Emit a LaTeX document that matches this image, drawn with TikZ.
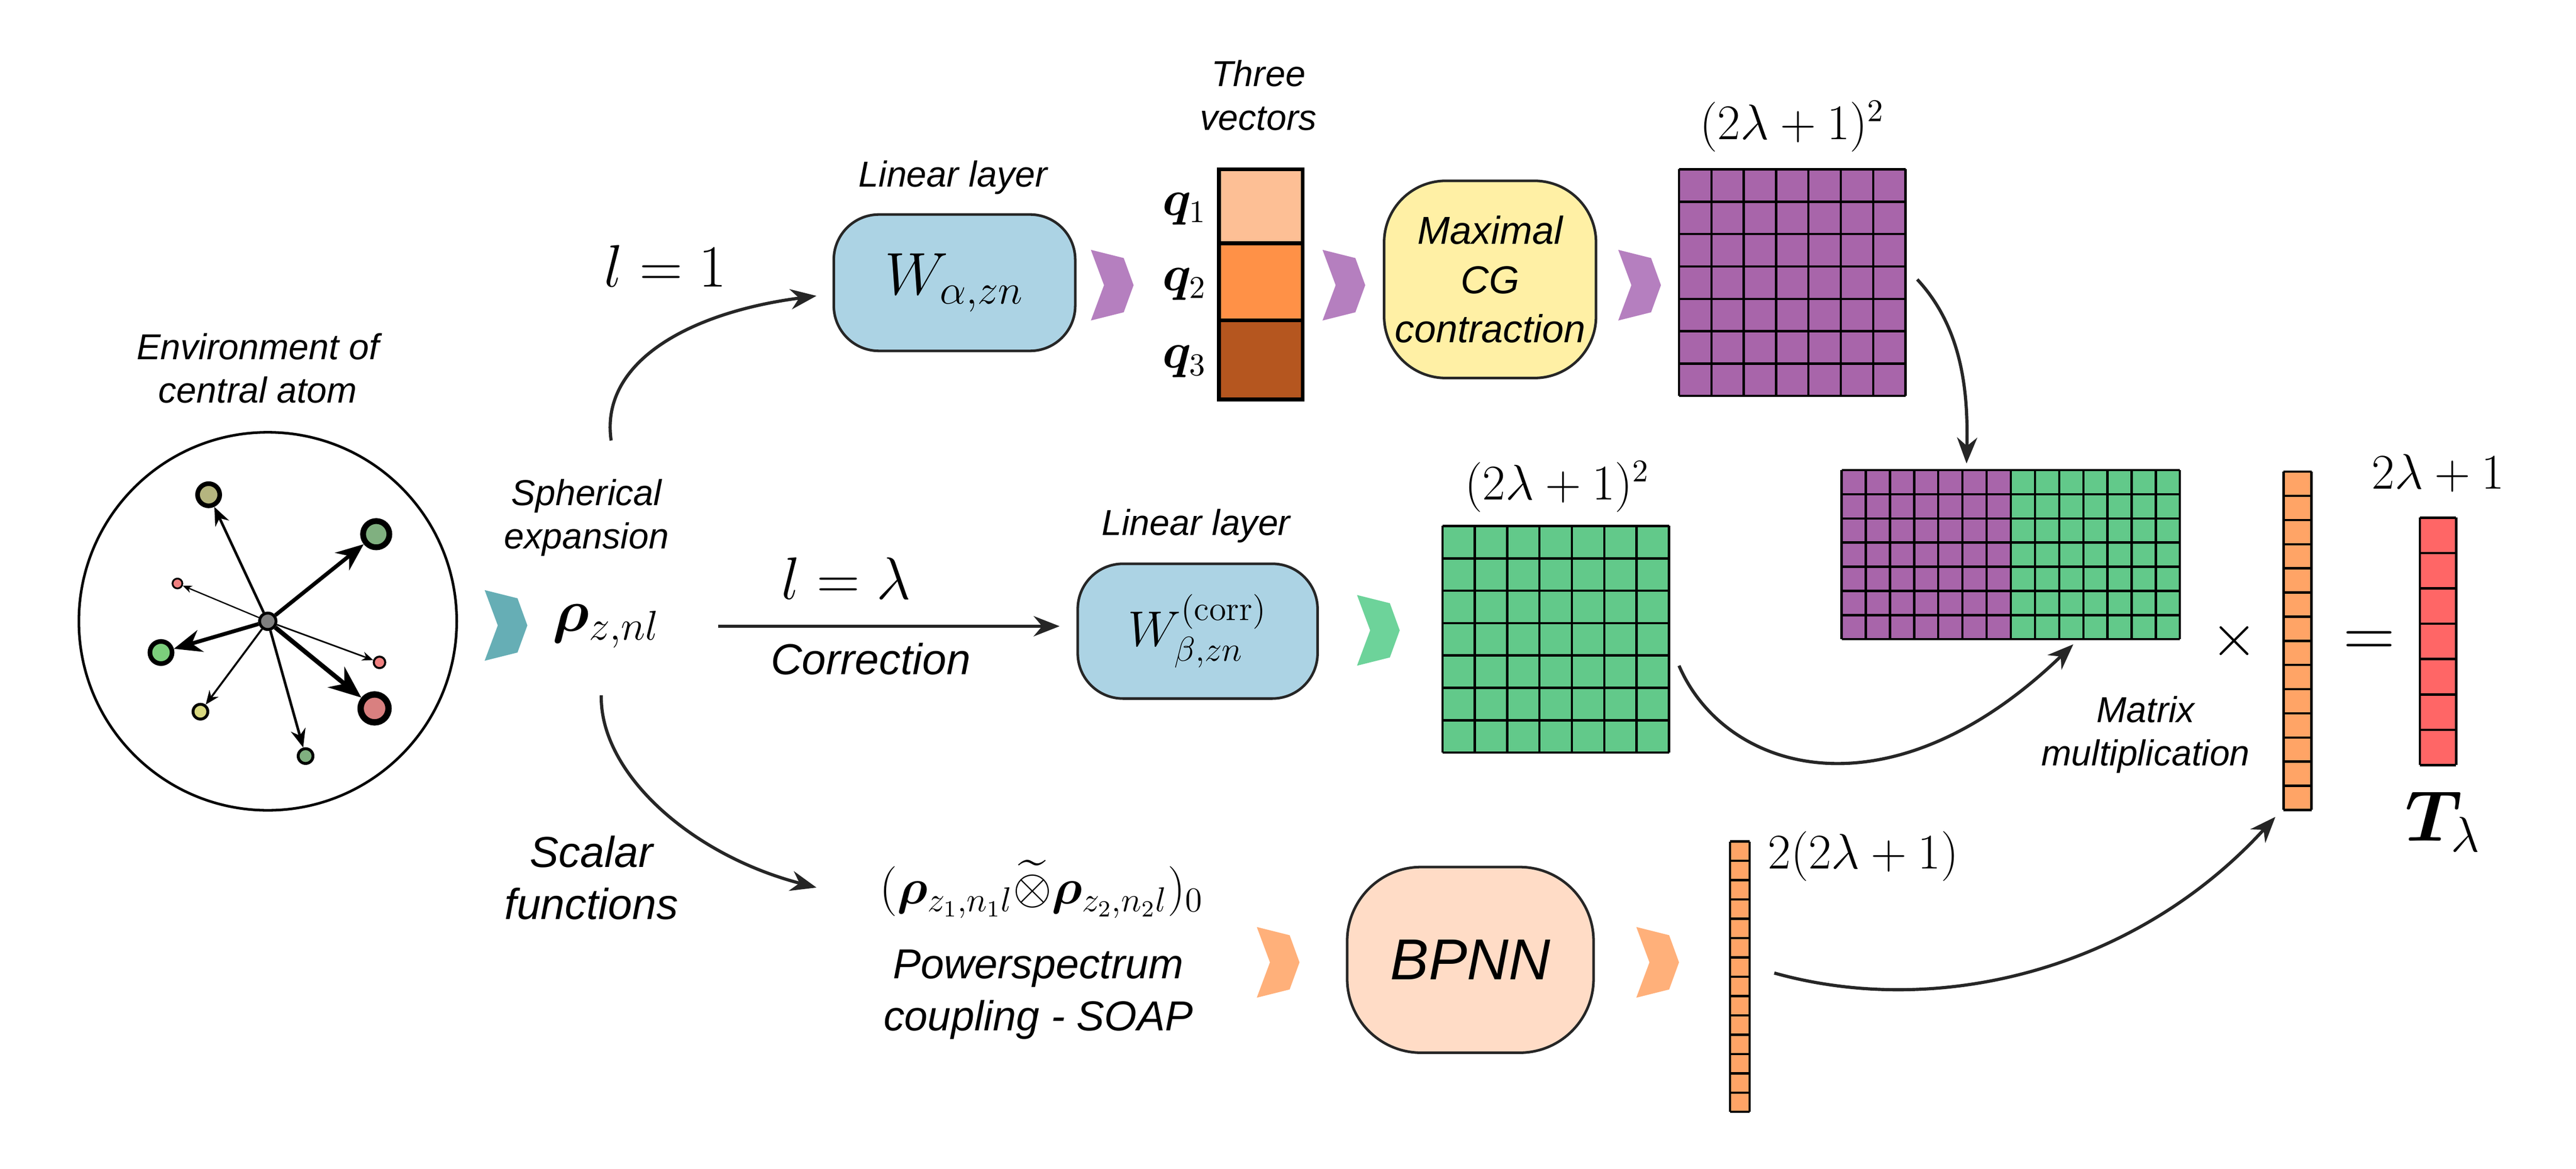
\documentclass[tikz,border=0pt]{standalone}
\usepackage{amsmath,bm}
\usepackage[no-math]{fontspec}
\setmainfont{Liberation Sans}
\usetikzlibrary{arrows.meta}
\definecolor{teal1}{HTML}{66AEB5}
\definecolor{purp}{HTML}{B57FBF}
\definecolor{purpm}{HTML}{A865AA}
\definecolor{grn}{HTML}{62C98A}
\definecolor{grnc}{HTML}{6DD39A}
\definecolor{orv}{HTML}{FFA466}
\definecolor{orc}{HTML}{FFB07A}
\definecolor{redv}{HTML}{FF6666}
\definecolor{lblue}{HTML}{ACD3E4}
\definecolor{lyel}{HTML}{FFF0A5}
\definecolor{lpeach}{HTML}{FFDCC6}
\definecolor{q1c}{HTML}{FDBF95}
\definecolor{q2c}{HTML}{FF9147}
\definecolor{q3c}{HTML}{B5561F}
\definecolor{at1}{HTML}{B5B57F}
\definecolor{at2}{HTML}{80B080}
\definecolor{at3}{HTML}{F08080}
\definecolor{at4}{HTML}{7CCF7C}
\definecolor{at6}{HTML}{D8D880}
\definecolor{at7}{HTML}{D98080}
\newcommand\mychev[3]{\fill[#3] (#1,#2) -- ++(20,5) -- ++(6,16.5) -- ++(-6,16.5) -- ++(-20,5) -- ++(8,-21.5) -- cycle;}
\newcommand\mygrid[6]{%
  \fill[#6] (#1,#2) rectangle ++(#3*#5,#4*#5);
  \foreach \k in {0,...,#3} \draw[line width=0.8pt] (#1+\k*#5,#2) -- ++(0,#4*#5);
  \foreach \k in {0,...,#4} \draw[line width=0.8pt] (#1,#2+\k*#5) -- ++(#3*#5,0);}
\newcommand\myvec[6]{%
  \fill[#6] (#1,#2) rectangle ++(#3,#4*#5);
  \foreach \k in {0,...,#4} \draw[line width=0.8pt] (#1,#2+\k*#5) -- ++(#3,0);
  \draw[line width=0.8pt] (#1,#2) -- ++(0,#4*#5) (#1+#3,#2) -- ++(0,#4*#5);}
\begin{document}
\begin{tikzpicture}[x=0.02cm,y=-0.02cm,
  lbl/.style={font=\fontsize{12.5}{15}\selectfont\itshape,align=center},
  big/.style={font=\fontsize{20}{24}\selectfont},
  mid/.style={font=\fontsize{16}{19}\selectfont},
  conn/.style={line width=1.1pt,draw=black!85,-{Stealth[length=9pt,width=7pt]}},
  box/.style={draw=black!85,line width=0.9pt,rounded corners=0.55cm},
  atom/.style={circle,draw,inner sep=0pt},
  bond/.style={-{Stealth[length=#1*3.2pt,width=#1*2.6pt]},line width=#1*0.45pt}]
\useasboundingbox (0,0) rectangle (1568,711);
% environment
\node[lbl] (envt) at (157,224) {Environment of\\central atom};
\draw[line width=0.9pt] (163,378) circle[radius=115];
\node[atom,fill=gray,minimum size=0.2cm,line width=1pt] (c) at (163,378) {};
\node[atom,fill=at1,minimum size=0.27cm,line width=1.6pt] (a1) at (127,301) {};
\node[atom,fill=at2,minimum size=0.32cm,line width=2pt] (a2) at (229,325) {};
\node[atom,fill=at3,minimum size=0.12cm,line width=0.6pt] (a3) at (108,355) {};
\node[atom,fill=at4,minimum size=0.27cm,line width=1.6pt] (a4) at (98,397) {};
\node[atom,fill=at3,minimum size=0.14cm,line width=0.7pt] (a5) at (231,403) {};
\node[atom,fill=at6,minimum size=0.18cm,line width=1pt] (a6) at (122,433) {};
\node[atom,fill=at7,minimum size=0.34cm,line width=2.2pt] (a7) at (228,431) {};
\node[atom,fill=at2,minimum size=0.18cm,line width=1pt] (a8) at (186,460) {};
\draw[bond=2] (c) -- (a1);
\draw[bond=3] (c) -- (a2);
\draw[bond=1] (c) -- (a3);
\draw[bond=3] (c) -- (a4);
\draw[bond=1.2] (c) -- (a5);
\draw[bond=1.5] (c) -- (a6);
\draw[bond=3.5] (c) -- (a7);
\draw[bond=2] (c) -- (a8);
% spherical expansion
\mychev{295}{359}{teal1}
\node[lbl] (sph) at (357,315) {Spherical\\expansion};
\node[font=\fontsize{22}{26}\selectfont,anchor=west] (rho) at (330,381) {$\bm{\rho}_{z,nl}$};
% top branch
\coordinate (t0) at (372,268);
\coordinate (t1) at (497,180);
\draw[conn] (t0) .. controls (365,220) and (420,190) .. (t1);
\node[big] (l1) at (405,162) {$l=1$};
\node[lbl] (ll1) at (580,108) {Linear layer};
\node[box,fill=lblue,minimum width=2.94cm,minimum height=1.66cm] (W1) at (581,172) {\fontsize{20}{24}\selectfont$W_{\alpha,zn}$};
\mychev{664}{152}{purp}
\node[lbl] (three) at (766,58) {Three\\vectors};
\fill[q1c] (742,103) rectangle (793,148);
\fill[q2c] (742,148) rectangle (793,195);
\fill[q3c] (742,195) rectangle (793,243);
\draw[line width=1.3pt] (742,103) rectangle (793,243) (742,148) -- (793,148) (742,195) -- (793,195);
\node[mid] (q1) at (721,127) {$\bm{q}_1$};
\node[mid] (q2) at (721,173) {$\bm{q}_2$};
\node[mid] (q3) at (721,220) {$\bm{q}_3$};
\mychev{805}{152}{purp}
\node[box,fill=lyel,minimum width=2.58cm,minimum height=2.4cm,rounded corners=0.75cm,lbl,font=\fontsize{13.5}{17}\selectfont\itshape] (cg) at (907,170) {Maximal\\CG\\contraction};
\mychev{985}{152}{purp}
\node[mid] (d1) at (1091,77) {$(2\lambda+1)^2$};
\mygrid{1022}{103}{7}{7}{19.7}{purpm}
\coordinate (p0) at (1167,170);
\coordinate (p1) at (1197,282);
\draw[conn] (p0) .. controls (1195,200) and (1198,240) .. (p1);
% combined matrix
\mygrid{1121}{286}{7}{7}{14.7}{purpm}
\mygrid{1224}{286}{7}{7}{14.7}{grn}
\node[big] (times) at (1360,390) {$\times$};
\myvec{1390}{287}{17}{14}{14.7}{orv}
\node[font=\fontsize{24}{28}\selectfont] (eq) at (1442,392) {$=$};
\node[mid] (d3) at (1484,288) {$2\lambda+1$};
\myvec{1473}{315}{22}{7}{21.5}{redv}
\node[font=\fontsize{24}{28}\selectfont] (T) at (1487,500) {$\bm{T}_\lambda$};
% middle
\node[big] (ll) at (515,352) {$l=\lambda$};
\coordinate (m0) at (437,381);
\coordinate (m1) at (645,381);
\draw[conn] (m0) -- (m1);
\node[lbl,font=\fontsize{15}{18}\selectfont\itshape] (corr) at (530,401) {Correction};
\node[lbl] (ll2) at (728,320) {Linear layer};
\node[box,fill=lblue,minimum width=2.92cm,minimum height=1.64cm] (W2) at (729,384) {\fontsize{18}{22}\selectfont$W^{(\mathrm{corr})}_{\beta,zn}$};
\mychev{826}{362}{grnc}
\node[mid] (d2) at (948,296) {$(2\lambda+1)^2$};
\mygrid{878}{320}{7}{7}{19.7}{grn}
\coordinate (g0) at (1022,405);
\coordinate (g1) at (1262,392);
\draw[conn] (g0) .. controls (1050,470) and (1150,500) .. (g1);
\node[lbl] (mm) at (1306,447) {Matrix\\multiplication};
% bottom
\coordinate (b0) at (366,423);
\coordinate (b1) at (497,540);
\draw[conn] (b0) .. controls (365,470) and (420,520) .. (b1);
\node[lbl,font=\fontsize{15}{18}\selectfont\itshape] (sc) at (360,534) {Scalar\\functions};
\node[font=\fontsize{17}{20}\selectfont] (ps) at (634,541) {$(\bm{\rho}_{z_1,n_1l}\widetilde{\otimes}\bm{\rho}_{z_2,n_2l})_0$};
\node[lbl,font=\fontsize{14.5}{18}\selectfont\itshape] (soap) at (632,605) {Powerspectrum\\coupling - SOAP};
\mychev{765}{564}{orc}
\node[box,fill=lpeach,minimum width=3.0cm,minimum height=2.26cm,rounded corners=0.9cm] (bp) at (895,584) {\fontsize{20}{24}\selectfont\itshape BPNN};
\mychev{996}{564}{orc}
\myvec{1053}{512}{12}{14}{11.75}{orv}
\node[mid,anchor=west] (d4) at (1070,521) {$2(2\lambda+1)$};
\coordinate (v0) at (1080,592);
\coordinate (v1) at (1385,497);
\draw[conn] (v0) .. controls (1180,620) and (1300,590) .. (v1);
\end{tikzpicture}
\end{document}
